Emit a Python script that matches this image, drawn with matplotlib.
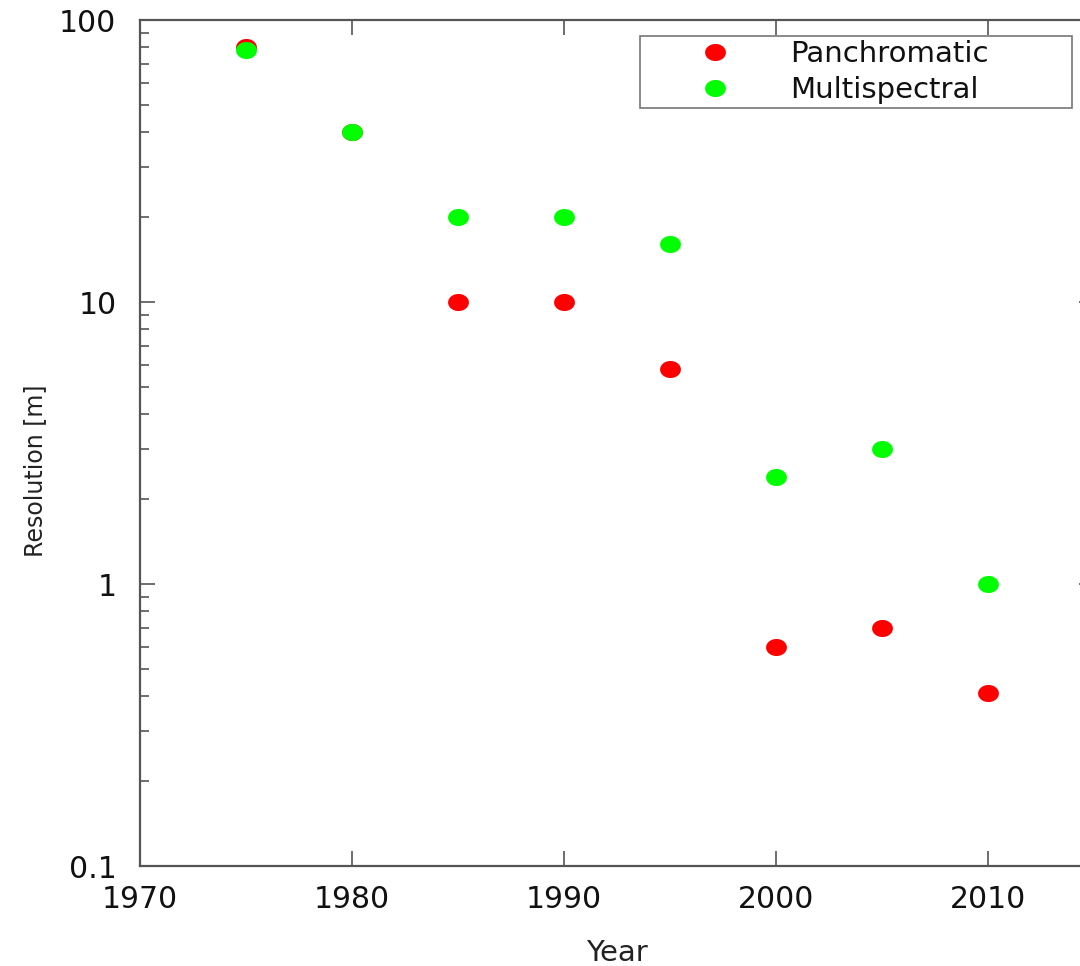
import matplotlib
matplotlib.use("Agg")
import matplotlib.pyplot as plt
import numpy as np
from matplotlib.path import Path
from matplotlib.ticker import FixedLocator, NullFormatter

years = [1975, 1980, 1985, 1990, 1995, 2000, 2005, 2010]
panchromatic = [80, 40, 10, 10, 5.8, 0.6, 0.7, 0.41]
multispectral = [78, 40, 20, 20, 16, 2.4, 3.0, 1.0]
xtick_vals = [1970, 1980, 1990, 2000, 2010]
ytick_vals = [0.1, 1, 10, 100]
ytick_labels = ["0.1", "1", "10", "100"]

# slightly wide ellipse marker
t = np.linspace(0, 2 * np.pi, 60)
ell = Path(np.column_stack([1.22 * np.cos(t), np.sin(t)]), closed=True)

fig = plt.figure(figsize=(10.8, 9.66), dpi=100)
ax = fig.add_axes([140 / 1080, 100 / 966, 954 / 1080, 846 / 966])

ax.plot(years, panchromatic, linestyle="none", marker=ell, markersize=15,
        color="#ff0000", markeredgewidth=0, label="Panchromatic")
ax.plot(years, multispectral, linestyle="none", marker=ell, markersize=15,
        color="#00ff00", markeredgewidth=0, label="Multispectral")

ax.set_yscale("log")
ax.set_xlim(1970, 2015)
ax.set_ylim(0.1, 100)
ax.xaxis.set_major_locator(FixedLocator(xtick_vals))
ax.set_xticklabels([str(v) for v in xtick_vals])
ax.yaxis.set_major_locator(FixedLocator(ytick_vals))
ax.set_yticklabels(ytick_labels)
minors = [m * 10.0 ** e for e in range(-1, 2) for m in range(2, 10)]
ax.yaxis.set_minor_locator(FixedLocator(minors))
ax.yaxis.set_minor_formatter(NullFormatter())
ax.xaxis.set_minor_locator(FixedLocator([]))

for s in ax.spines.values():
    s.set_color("#555555")
    s.set_linewidth(1.6)

ax.tick_params(which="both", direction="in", top=True, right=True,
               color="#555555", width=1.2)
ax.tick_params(which="major", length=11)
ax.tick_params(which="minor", length=6.5)
ax.tick_params(axis="y", which="major", labelsize=21.5, pad=17, labelcolor="#111111")
ax.tick_params(axis="x", which="major", labelsize=21.5, pad=14, labelcolor="#111111")

ax.set_xlabel("Year", fontsize=21, color="#222222")
ax.set_ylabel("Resolution [m]", fontsize=17, color="#222222")
ax.xaxis.set_label_coords(0.5, -0.086)
ax.yaxis.set_label_coords(-0.097, 0.467)

leg = ax.legend(loc="upper left",
                bbox_to_anchor=(640 / 1080, 1 - 106 / 966, 432 / 1080, 70 / 966),
                bbox_transform=fig.transFigure, borderaxespad=0, mode="expand",
                fontsize=21, frameon=True, fancybox=False, edgecolor="#555555",
                handlelength=4.9, handletextpad=0.12, borderpad=0.13,
                labelspacing=0.29, markerscale=1.0)
leg.get_frame().set_linewidth(1.2)
for txt in leg.get_texts():
    txt.set_color("#111111")

fig.savefig("out.png", dpi=100)
